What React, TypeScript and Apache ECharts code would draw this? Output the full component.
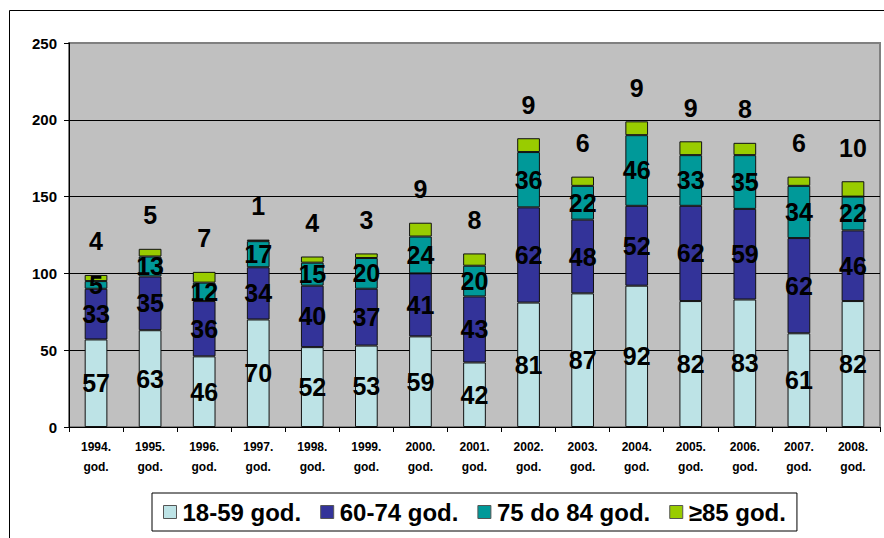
import React, { useEffect, useRef } from "react";
import * as echarts from "echarts";

const years = ["1994.", "1995.", "1996.", "1997.", "1998.", "1999.", "2000.", "2001.", "2002.", "2003.", "2004.", "2005.", "2006.", "2007.", "2008."];
const seriesNames = ["18-59 god.", "60-74 god.", "75 do 84 god.", "≥85 god."];
const age18to59 = [57, 63, 46, 70, 52, 53, 59, 42, 81, 87, 92, 82, 83, 61, 82];
const age60to74 = [33, 35, 36, 34, 40, 37, 41, 43, 62, 48, 52, 62, 59, 62, 46];
const age75to84 = [5, 13, 12, 17, 15, 20, 24, 20, 36, 22, 46, 33, 35, 34, 22];
const age85plus = [4, 5, 7, 1, 4, 3, 9, 8, 9, 6, 9, 9, 8, 6, 10];
const yTicks = { min: 0, max: 250, interval: 50 };

const colors = ["#BDE3E6", "#333399", "#009999", "#99CC00"];
const baseFont = "'Liberation Sans', Arial, sans-serif";

export default function App() {
  const ref = useRef<HTMLDivElement>(null);
  useEffect(() => {
    if (!ref.current) return;
    const chart = echarts.init(ref.current, undefined, { renderer: "svg" });
    const allData = [age18to59, age60to74, age75to84, age85plus];
    const series = allData.map((d, i) => ({
      name: seriesNames[i],
      type: "bar",
      stack: "total",
      barWidth: "42%",
      data: d,
      itemStyle: { color: colors[i], borderColor: "#111", borderWidth: 1 },
      label: {
        show: true,
        position: i === 3 ? "top" : "inside",
        distance: i === 3 ? 21 : 5,
        color: "#000",
        fontFamily: baseFont,
        fontWeight: "bold",
        fontSize: 25,
      },
    }));
    chart.setOption({
      animation: false,
      backgroundColor: "#fff",
      textStyle: { fontFamily: baseFont },
      graphic: [
        {
          type: "rect",
          shape: { x: 9.5, y: 10.5, width: 1000, height: 1000 },
          style: { fill: "none", stroke: "#000", lineWidth: 1 },
          silent: true,
          z: -1,
        },
      ],
      grid: {
        left: 69,
        right: 4,
        top: 43,
        bottom: 111,
        show: true,
        backgroundColor: "#C0C0C0",
        borderColor: "#808080",
        borderWidth: 2,
      },
      legend: {
        left: 152,
        top: 493,
        orient: "horizontal",
        padding: [7, 11],
        itemGap: 19,
        itemWidth: 13,
        itemHeight: 13,
        icon: "rect",
        backgroundColor: "#fff",
        borderColor: "#000",
        borderWidth: 1,
        itemStyle: { borderColor: "#555", borderWidth: 1 },
        textStyle: { fontFamily: baseFont, fontWeight: "bold", fontSize: 24, color: "#000", padding: [0, 0, 0, 1] },
        data: seriesNames,
      },
      xAxis: {
        type: "category",
        data: years,
        axisLine: { lineStyle: { color: "#000", width: 1 } },
        axisTick: { show: true, length: 5, lineStyle: { color: "#000" } },
        axisLabel: {
          formatter: (v: string) => v + "\ngod.",
          fontFamily: baseFont,
          fontWeight: "bold",
          fontSize: 12,
          color: "#000",
          lineHeight: 20,
          margin: 10,
        },
      },
      yAxis: {
        type: "value",
        min: yTicks.min,
        max: yTicks.max,
        interval: yTicks.interval,
        axisLine: { show: true, lineStyle: { color: "#000", width: 1 } },
        axisTick: { show: true, length: 5, lineStyle: { color: "#000" } },
        axisLabel: { fontFamily: baseFont, fontWeight: "bold", fontSize: 15, color: "#000", margin: 12 },
        splitLine: { show: true, showMaxLine: false, lineStyle: { color: "#000", width: 1 } },
      },
      series,
    });
    return () => chart.dispose();
  }, []);
  return <div ref={ref} style={{ position: "fixed", left: 0, top: 0, width: 884, height: 538 }} />;
}
